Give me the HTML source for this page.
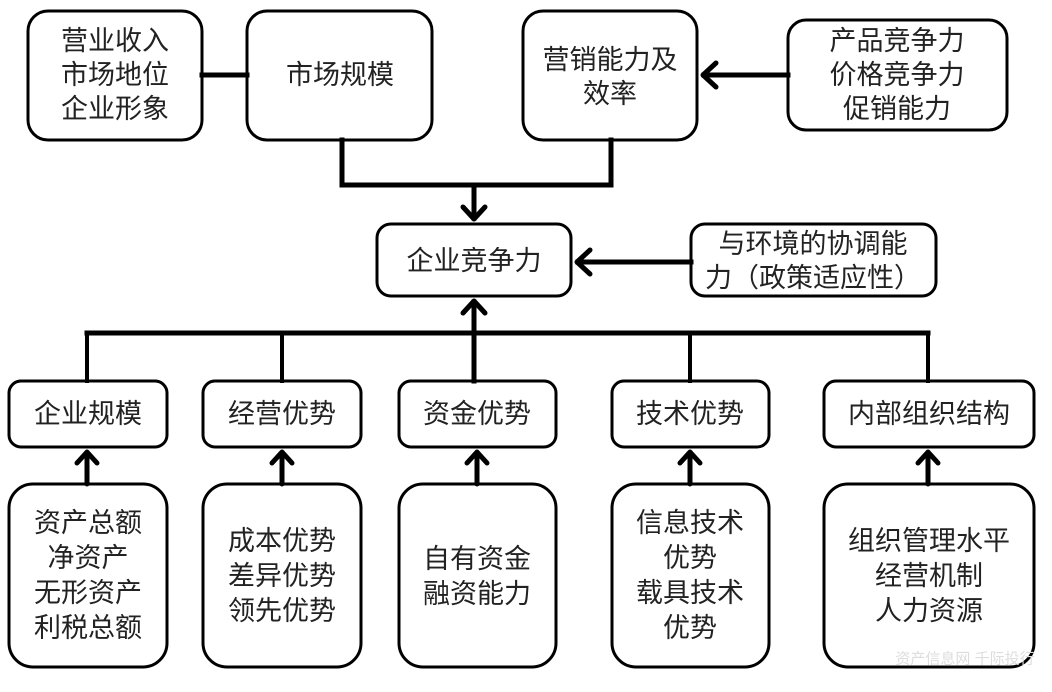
<!DOCTYPE html>
<html><head><meta charset="utf-8"><style>
html,body{margin:0;padding:0;background:#fff;}
svg text{font-family:"Liberation Sans","Noto Sans CJK SC","WenQuanYi Zen Hei",sans-serif;font-size:27px;fill:#222;text-anchor:middle;dominant-baseline:central;}
</style></head><body>
<svg width="1052" height="687" viewBox="0 0 1052 687" xmlns="http://www.w3.org/2000/svg">
<g fill="#fff" stroke="#000" stroke-width="3">
<rect x="28" y="11" width="174" height="129" rx="20"/>
<rect x="247" y="11" width="185" height="129" rx="20"/>
<rect x="523" y="11" width="174" height="129" rx="20"/>
<rect x="788" y="20" width="219" height="110" rx="18"/>
<rect x="377" y="224" width="194" height="72" rx="14"/>
<rect x="691" y="224" width="245" height="72" rx="14"/>
<rect x="9" y="381" width="158" height="66" rx="12"/>
<rect x="203" y="381" width="158" height="66" rx="12"/>
<rect x="399" y="381" width="157" height="66" rx="12"/>
<rect x="612" y="381" width="157" height="66" rx="12"/>
<rect x="824" y="381" width="210" height="66" rx="12"/>
<rect x="9" y="484" width="158" height="183" rx="24"/>
<rect x="203" y="484" width="158" height="183" rx="24"/>
<rect x="399" y="484" width="157" height="183" rx="24"/>
<rect x="612" y="484" width="157" height="183" rx="24"/>
<rect x="824" y="484" width="210" height="183" rx="24"/>
</g>
<g stroke="#000" stroke-width="5" fill="none" stroke-linecap="square">
<line x1="202" y1="75" x2="247" y2="75"/>
<line x1="704" y1="75" x2="788" y2="75"/>
<polyline points="716,63 703,75 716,87" stroke-linecap="round" stroke-linejoin="round"/>
<polyline points="342,140 342,185 611,185 611,140"/>
<line x1="474" y1="185" x2="474" y2="218"/>
<polyline points="463,207 474,219 485,207" stroke-linecap="round" stroke-linejoin="round"/>
<line x1="578" y1="262" x2="691" y2="262"/>
<polyline points="590,250 577,262 590,274" stroke-linecap="round" stroke-linejoin="round"/>
<line x1="87" y1="333" x2="928" y2="333"/>
<line x1="474" y1="381" x2="474" y2="302"/>
<polyline points="463,313 474,301 485,313" stroke-linecap="round" stroke-linejoin="round"/>
<g stroke-width="4">
<line x1="87" y1="333" x2="87" y2="381"/>
<line x1="282" y1="333" x2="282" y2="381"/>
<line x1="690" y1="333" x2="690" y2="381"/>
<line x1="928" y1="333" x2="928" y2="381"/>
</g>
<g stroke-linecap="round" stroke-linejoin="round">
<line x1="87" y1="484" x2="87" y2="453"/><polyline points="77,463 87,452 97,463"/>
<line x1="282" y1="484" x2="282" y2="453"/><polyline points="272,463 282,452 292,463"/>
<line x1="477" y1="484" x2="477" y2="453"/><polyline points="467,463 477,452 487,463"/>
<line x1="690" y1="484" x2="690" y2="453"/><polyline points="680,463 690,452 700,463"/>
<line x1="928" y1="484" x2="928" y2="453"/><polyline points="918,463 928,452 938,463"/>
</g>
</g>
<text x="115" y="41">营业收入</text>
<text x="115" y="75">市场地位</text>
<text x="115" y="109">企业形象</text>
<text x="340" y="75">市场规模</text>
<text x="610" y="60">营销能力及</text>
<text x="610" y="94">效率</text>
<text x="897" y="41">产品竞争力</text>
<text x="897" y="75">价格竞争力</text>
<text x="897" y="109">促销能力</text>
<text x="474" y="261">企业竞争力</text>
<text x="813" y="244">与环境的协调能</text>
<text x="813" y="278">力（政策适应性）</text>
<text x="88" y="414">企业规模</text>
<text x="282" y="414">经营优势</text>
<text x="477" y="414">资金优势</text>
<text x="690" y="414">技术优势</text>
<text x="929" y="414">内部组织结构</text>
<text x="88" y="523">资产总额</text>
<text x="88" y="558">净资产</text>
<text x="88" y="593">无形资产</text>
<text x="88" y="628">利税总额</text>
<text x="282" y="541">成本优势</text>
<text x="282" y="576">差异优势</text>
<text x="282" y="611">领先优势</text>
<text x="477" y="559">自有资金</text>
<text x="477" y="594">融资能力</text>
<text x="690" y="523">信息技术</text>
<text x="690" y="558">优势</text>
<text x="690" y="593">载具技术</text>
<text x="690" y="628">优势</text>
<text x="929" y="541">组织管理水平</text>
<text x="929" y="576">经营机制</text>
<text x="929" y="611">人力资源</text>
<text x="965" y="659" style="font-size:15px;fill:#ddd">资产信息网 千际投行</text>
</svg>
</body></html>
